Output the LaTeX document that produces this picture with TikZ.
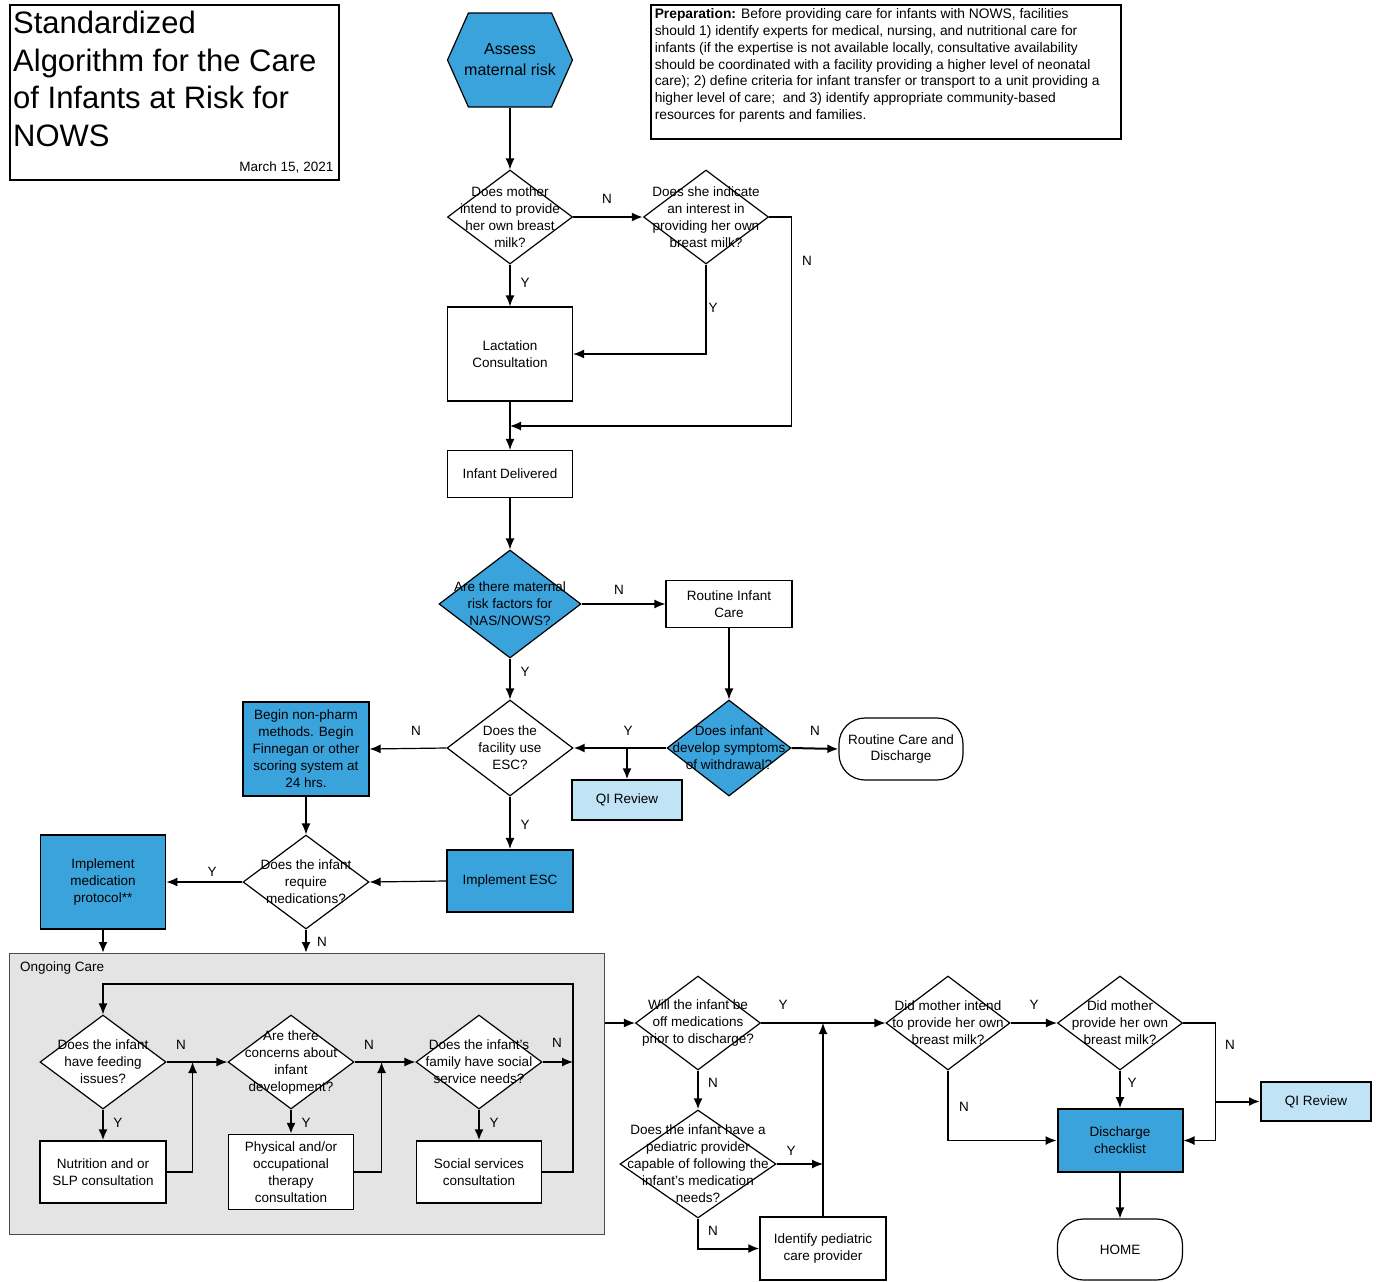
\documentclass[tikz,border=0pt]{standalone}
\usepackage{fontspec}
\setmainfont{Liberation Sans}
\usetikzlibrary{shapes.geometric, shapes.symbols, arrows.meta}
\definecolor{nowsblue}{RGB}{58,163,220}
\definecolor{qiblue}{RGB}{193,227,246}
\definecolor{groupgray}{RGB}{228,228,228}
\tikzstyle{process} = [rectangle, draw=black, line width=1.2pt, minimum width=125pt, minimum height=94pt, align=center, inner sep=2pt]
\tikzstyle{decision} = [diamond, draw=black, line width=1.2pt, minimum width=125pt, minimum height=94pt, inner sep=0pt]
\tikzstyle{dtext} = [align=center, inner sep=0pt]
\tikzstyle{terminal} = [rectangle, rounded corners=26pt, draw=black, line width=1.2pt, minimum width=124pt, minimum height=62pt, align=center]
\tikzstyle{yn} = [inner sep=1pt]
\tikzstyle{arrow} = [line width=1.2pt, -{Latex[length=11pt, width=9pt]}]
\tikzstyle{thickarrow} = [arrow, line width=2pt]

\begin{document}
\begin{tikzpicture}[x=1pt, y=-1pt, font=\fontsize{13.5}{17}\selectfont]
	\useasboundingbox (0,0) rectangle (1376,1282);
	% header
	\node[draw, line width=1.5pt, anchor=north west, minimum width=329pt, minimum height=175pt] (titlebox) at (9,4) {};
	\node[anchor=north west, align=left, inner sep=0, font=\fontsize{31}{37.5}\selectfont] (titletext) at (13,11) {Standardized\\Algorithm for the Care\\of Infants at Risk for\\NOWS};
	\node[anchor=south east, inner sep=0] (date) at ([xshift=-6pt, yshift=7pt]titlebox.south east) {March 15, 2021};
	\node[draw, line width=1.5pt, anchor=north west, inner sep=4pt, font=\fontsize{13.8}{16.8}\selectfont] (prep) at (650,4) {\parbox[c][126pt][t]{462pt}{\textbf{Preparation:} Before providing care for infants with NOWS, facilities\\
	should 1) identify experts for medical, nursing, and nutritional care for\\
	infants (if the expertise is not available locally, consultative availability\\
	should be coordinated with a facility providing a higher level of neonatal\\
	care); 2) define criteria for infant transfer or transport to a unit providing a\\
	higher level of care;\ \ and 3) identify appropriate community-based\\
	resources for parents and families.}};

	% before delivery
	\node[signal, signal to=east and west, signal pointer angle=132, draw=black, line width=1.2pt, fill=nowsblue, minimum width=125pt, minimum height=94pt, inner sep=0pt, label={[dtext, font=\fontsize{16}{21}\selectfont]center:Assess\\maternal risk}] (risk) at (510,60) {};
	\node[decision, label={[dtext]center:Does mother\\intend to provide\\her own breast\\milk?}] (d1) at (510,217) {};
	\node[decision, label={[dtext]center:Does she indicate\\an interest in\\providing her own\\breast milk?}] (d2) at (706,217) {};
	\node[process] (lact) at (510,354) {Lactation\\Consultation};
	\node[process, minimum height=47pt] (deliv) at (510,474) {Infant Delivered};
	\coordinate (merge) at (510,426);

	% after delivery
	\node[decision, fill=nowsblue, minimum width=142pt, minimum height=108pt, label={[dtext]center:Are there maternal\\risk factors for\\NAS/NOWS?}] (d3) at (510,604) {};
	\node[process, minimum width=126pt, minimum height=47pt] (ric) at (729,604) {Routine Infant\\Care};
	\node[decision, fill=nowsblue, minimum width=124pt, minimum height=96pt, label={[dtext]center:Does infant\\develop symptoms\\of withdrawal?}] (d5) at (729,748) {};
	\node[terminal] (rcd) at (901,749) {Routine Care and\\Discharge};
	\node[process, fill=qiblue, minimum width=110pt, minimum height=40pt] (qi1) at (627,800) {QI Review};
	\node[decision, minimum width=126pt, minimum height=96pt, label={[dtext]center:Does the\\facility use\\ESC?}] (d4) at (510,748) {};
	\node[process, fill=nowsblue, minimum width=126pt] (nonpharm) at (306,749) {Begin non-pharm\\methods. Begin\\Finnegan or other\\scoring system at\\24 hrs.};
	\node[process, fill=nowsblue, line width=2.2pt, minimum width=126pt, minimum height=62pt] (esc) at (510,881) {Implement ESC};
	\node[decision, minimum width=126pt, label={[dtext]center:Does the infant\\require\\medications?}] (d6) at (306,882) {};
	\node[process, fill=nowsblue, line width=1.8pt] (impmed) at (103,882) {Implement\\medication\\protocol**};

	% ongoing care
	\node[draw=black!70, line width=1pt, fill=groupgray, minimum width=595pt, minimum height=281pt, anchor=north west, label={[anchor=north west, inner sep=0pt, xshift=11pt, yshift=-9pt]north west:Ongoing Care}] (ongoing) at (9,953) {};
	\node[decision, minimum width=126pt, fill=white, label={[dtext]center:Does the infant\\have feeding\\issues?}] (d7) at (103,1062) {};
	\node[decision, minimum width=126pt, fill=white, label={[dtext]center:Are there\\concerns about\\infant\\development?}] (d8) at (291,1062) {};
	\node[decision, minimum width=126pt, fill=white, label={[dtext]center:Does the infant's\\family have social\\service needs?}] (d9) at (479,1062) {};
	\node[process, fill=white, minimum width=126pt, minimum height=62pt] (nutr) at (103,1172) {Nutrition and or\\SLP consultation};
	\node[process, fill=white, minimum height=75pt] (phys) at (291,1172) {Physical and/or\\occupational\\therapy\\consultation};
	\node[process, fill=white, minimum height=62pt] (soc) at (479,1172) {Social services\\consultation};
	\coordinate (looptop) at (573,984);

	% discharge
	\node[decision, label={[dtext]center:Will the infant be\\off medications\\prior to discharge?}] (d10) at (698,1023) {};
	\node[decision, minimum width=156pt, minimum height=108pt, label={[dtext]center:Does the infant have a\\pediatric provider\\capable of following the\\infant's medication\\needs?}] (d11) at (698,1164) {};
	\node[process, minimum width=126pt, minimum height=63pt] (ident) at (823,1248.5) {Identify pediatric\\care provider};
	\node[decision, minimum width=124pt, label={[dtext]center:Did mother intend\\to provide her own\\breast milk?}] (d12) at (948,1023) {};
	\node[decision, label={[dtext]center:Did mother\\provide her own\\breast milk?}] (d13) at (1120,1023) {};
	\node[process, fill=nowsblue, line width=2pt, minimum height=63pt] (disc) at (1120,1140.5) {Discharge\\checklist};
	\node[terminal, minimum width=125pt, minimum height=61pt] (home) at (1120,1249.5) {HOME};
	\node[process, fill=qiblue, line width=2pt, minimum width=110pt, minimum height=39pt] (qi2) at (1316,1101.5) {QI Review};

	% connectors
	\draw[arrow] (risk) -- (d1);
	\draw[thickarrow] (d1.east) -- (d2.west);
	\draw[arrow] (d1.south) -- (lact.north);
	\draw[arrow] (d2.south) |- (lact.east);
	\draw[arrow] (d2.east) -- ++(22,0) |- (merge);
	\draw[arrow] (lact) -- (deliv);
	\draw[arrow] (deliv) -- (d3);
	\draw[arrow] (d3.east) -- (ric.west);
	\draw[arrow] (d3.south) -- (d4.north);
	\draw[arrow] (ric.south) -- (d5.north);
	\draw[thickarrow] (d5.east) -- (rcd.west);
	\draw[thickarrow] (d5.west) -- (d4.east);
	\draw[thickarrow] (qi1.north |- d5.west) -- (qi1.north);
	\draw[arrow] (d4.west) -- (nonpharm.east);
	\draw[arrow] (d4.south) -- (esc.north);
	\draw[arrow] (nonpharm.south) -- (d6.north);
	\draw[arrow] (esc.west) -- (d6.east);
	\draw[arrow] (d6.west) -- (impmed.east);
	\draw[thickarrow] (impmed.south) -- (impmed.south |- ongoing.north);
	\draw[thickarrow] (d6.south) -- (d6.south |- ongoing.north);
	\draw[arrow] (d7.east) -- (d8.west);
	\draw[arrow] (d8.east) -- (d9.west);
	\draw[arrow] (d9.east) -- (d9.east -| looptop);
	\draw[thickarrow] (d7.south) -- (nutr.north);
	\draw[thickarrow] (d8.south) -- (phys.north);
	\draw[thickarrow] (d9.south) -- (soc.north);
	\draw[arrow] (nutr.east) -| ([xshift=26pt]d7.east);
	\draw[arrow] (phys.east) -| ([xshift=27pt]d8.east);
	\draw[arrow] (soc.east) -| (looptop) -| (d7.north);
	\draw[arrow] (ongoing.east |- d10.west) -- (d10.west);
	\draw[arrow] (d10.east) -- (d12.west);
	\draw[thickarrow] (d10.south) -- (d11.north);
	\draw[arrow] (d11.east) -- (d11.east -| ident.north);
	\draw[thickarrow] (d11.south) |- (ident.west);
	\draw[arrow] (ident.north) -- (ident.north |- d10.east);
	\draw[arrow] (d12.east) -- (d13.west);
	\draw[arrow] (d12.south) |- (disc.west);
	\draw[arrow] (d13.south) -- (disc.north);
	\draw[arrow] (d13.east) -- ++(32,0) |- (disc.east);
	\draw[thickarrow] ([xshift=32pt]d13.east |- qi2.west) -- (qi2.west);
	\draw[arrow] (disc) -- (home);

	% Y / N labels
	\node[yn] (n1) at (607,199) {N};
	\node[yn] (n2) at (807,261) {N};
	\node[yn] (y1) at (525,283) {Y};
	\node[yn] (y2) at (713,308) {Y};
	\node[yn] (n3) at (619,590) {N};
	\node[yn] (y3) at (525,672) {Y};
	\node[yn] (n4) at (416,731) {N};
	\node[yn] (y4) at (628,731) {Y};
	\node[yn] (n5) at (815,731) {N};
	\node[yn] (y5) at (525,825) {Y};
	\node[yn] (y6) at (212,872) {Y};
	\node[yn] (n6) at (322,942) {N};
	\node[yn] (n7) at (181,1045) {N};
	\node[yn] (n8) at (369,1045) {N};
	\node[yn] (n9) at (557,1043) {N};
	\node[yn] (y7) at (118,1123) {Y};
	\node[yn] (y8) at (306,1123) {Y};
	\node[yn] (y9) at (494,1123) {Y};
	\node[yn] (y10) at (783,1005) {Y};
	\node[yn] (n10) at (713,1083) {N};
	\node[yn] (y11) at (791,1151) {Y};
	\node[yn] (n11) at (713,1231) {N};
	\node[yn] (y12) at (1034,1005) {Y};
	\node[yn] (n12) at (964,1107) {N};
	\node[yn] (y13) at (1132,1083) {Y};
	\node[yn] (n13) at (1230,1045) {N};
\end{tikzpicture}
\end{document}
